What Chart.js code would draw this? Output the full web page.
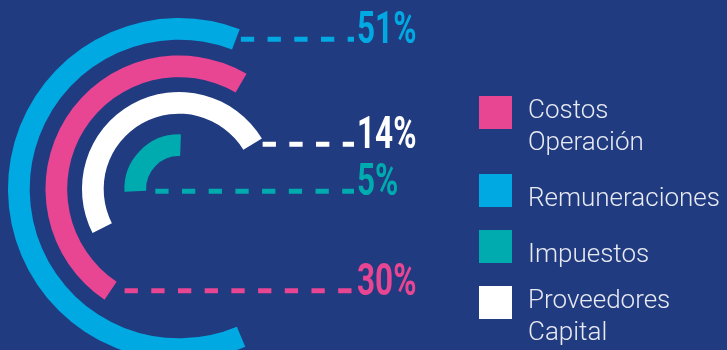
<!DOCTYPE html>
<html>
<head>
<meta charset="utf-8">
<script src="https://cdn.jsdelivr.net/npm/chart.js@4.4.1/dist/chart.umd.min.js"></script>
<style>
  html, body { margin: 0; padding: 0; background: #213b80; }
  .wrap { position: relative; width: 727px; height: 350px; }
</style>
</head>
<body>
<div class="wrap"><canvas id="myChart"></canvas></div>
<script>
// datos
const categories = [['Costos', 'Operación'], ['Remuneraciones'], ['Impuestos'], ['Proveedores', 'Capital']];
const shares = [30, 51, 5, 14];
// arcos (grados, desde arriba en sentido horario)
const arcStart = [213.9, 157.2, 267, 243];
const arcSweep = [176.5, 223.6, 95, 175.7];

// estilo
const colors = ['#e84592', '#00a9e2', '#00abb0', '#ffffff'];
const ringOrder = [1, 0, 3, 2];      // de afuera hacia adentro
const ringWidth = 22;
const ringGaps = [16, 15, 21];
const leaderEnd = ['start', 'end', 'start', 'end'];
const leaderGap = [14, 5, 20, 10];
const labelX = 357;
const lineEndX = 354;

const datasets = [];
ringOrder.forEach((i, k) => {
  datasets.push({
    label: categories[i].join(' '),
    data: [shares[i]],
    backgroundColor: colors[i],
    rotation: arcStart[i],
    circumference: arcSweep[i],
    weight: ringWidth,
    borderWidth: 0
  });
  if (k < ringGaps.length) {
    datasets.push({
      label: 'gap',
      data: [1],
      backgroundColor: 'rgba(0,0,0,0)',
      rotation: 0,
      circumference: 360,
      weight: ringGaps[k],
      borderWidth: 0
    });
  }
});

const ringIndex = i => datasets.findIndex(d => d.label === categories[i].join(' '));

const background = {
  id: 'background',
  beforeDraw(chart) {
    const ctx = chart.ctx;
    ctx.save();
    ctx.fillStyle = '#213b80';
    ctx.fillRect(0, 0, chart.width, chart.height);
    ctx.restore();
  }
};

// líneas punteadas + porcentajes
const leaders = {
  id: 'leaders',
  afterDatasetsDraw(chart) {
    const ctx = chart.ctx;
    categories.forEach((c, i) => {
      const arc = chart.getDatasetMeta(ringIndex(i)).data[0];
      const a = leaderEnd[i] === 'start' ? arc.startAngle : arc.endAngle;
      const r = (arc.innerRadius + arc.outerRadius) / 2;
      const px = arc.x + r * Math.cos(a);
      const py = arc.y + r * Math.sin(a);

      ctx.save();
      ctx.strokeStyle = colors[i];
      ctx.lineWidth = 5;
      ctx.setLineDash([13.3, 13.4]);
      ctx.beginPath();
      ctx.moveTo(px + leaderGap[i], py);
      ctx.lineTo(lineEndX, py);
      ctx.stroke();
      ctx.restore();

      ctx.save();
      ctx.fillStyle = colors[i];
      ctx.font = 'bold 45px Roboto';
      ctx.textBaseline = 'alphabetic';
      ctx.translate(labelX, py + 4);
      ctx.scale(0.7, 1);
      ctx.fillText(shares[i] + '%', 0, 0);
      ctx.restore();
    });
  }
};

// leyenda
const legendBox = {
  id: 'legendBox',
  afterDraw(chart) {
    const ctx = chart.ctx;
    let top = 96;
    ctx.save();
    ctx.font = '300 26px Roboto';
    ctx.textBaseline = 'alphabetic';
    categories.forEach((lines, i) => {
      ctx.fillStyle = colors[i];
      ctx.fillRect(479, top, 33, 33);
      ctx.fillStyle = '#e8eaf2';
      const first = lines.length === 1 ? 32 : 22;
      lines.forEach((t, j) => ctx.fillText(t, 528, top + first + j * 32));
      top += lines.length === 1 ? 56 : 78;
    });
    ctx.restore();
  }
};

const config = {
  type: 'doughnut',
  data: {
    labels: [''],
    datasets: datasets
  },
  options: {
    responsive: true,
    maintainAspectRatio: false,
    animation: false,
    events: [],
    radius: 171,
    cutout: 31,
    layout: {
      padding: { left: 0, right: 369, top: 28, bottom: 0 }
    },
    plugins: {
      legend: { display: false },
      tooltip: { enabled: false }
    }
  },
  plugins: [background, leaders, legendBox]
};

new Chart(document.getElementById('myChart').getContext('2d'), config);
</script>
</body>
</html>
